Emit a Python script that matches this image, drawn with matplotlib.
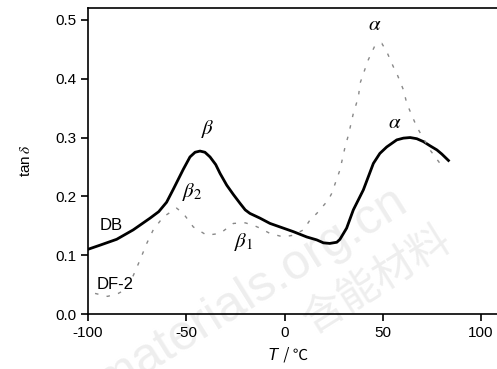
import matplotlib
matplotlib.use("Agg")
import matplotlib.pyplot as plt

plt.rcParams['font.family'] = ['Liberation Sans', 'Noto Sans CJK SC', 'DejaVu Sans']
plt.rcParams['mathtext.fontset'] = 'stix'

# DB (solid) curve
db_T = [-100, -93.9, -85.4, -77, -68.4, -64, -60, -56.6, -51.5, -48.1, -45.5, -43, -40.5, -37.9,
        -35, -32.8, -29.4, -26, -22.6, -20, -17.6, -12.5, -7.4, -0.6, 4.5, 11.3, 16.4, 19.8,
        23, 26.6, 28.2, 31.6, 35, 40.1, 45.2, 48.5, 52, 57.1, 60.5, 63.9, 67.3, 70.7, 74,
        77.5, 80, 83.4]
db_tan = [0.110, 0.117, 0.127, 0.143, 0.163, 0.174, 0.190, 0.212, 0.246, 0.267, 0.275, 0.277,
          0.275, 0.267, 0.254, 0.239, 0.219, 0.203, 0.188, 0.177, 0.171, 0.163, 0.154, 0.146,
          0.140, 0.131, 0.126, 0.121, 0.120, 0.122, 0.127, 0.146, 0.177, 0.211, 0.256, 0.273,
          0.284, 0.296, 0.299, 0.300, 0.298, 0.293, 0.286, 0.279, 0.272, 0.261]

# DF-2 (dashed) curve
df_T = [-96.4, -90, -84.6, -81.2, -77, -73.5, -70.1, -66.8, -61.7, -54.9, -51.5, -46.4, -39.6,
        -32.8, -26, -20, -15.9, -12.5, -7.4, -0.6, 4.5, 9.6, 13, 16.4, 22.3, 24, 28.2, 30.8,
        32.5, 35, 37.6, 38.4, 41, 42.6, 46.1, 49.5, 52, 55.4, 57.1, 60.5, 62.2, 65.5, 67.3,
        74, 79.1]
df_tan = [0.035, 0.030, 0.035, 0.041, 0.065, 0.092, 0.120, 0.143, 0.165, 0.180, 0.171, 0.148,
          0.134, 0.137, 0.154, 0.155, 0.151, 0.146, 0.137, 0.131, 0.134, 0.143, 0.160, 0.171,
          0.194, 0.205, 0.245, 0.284, 0.304, 0.341, 0.369, 0.392, 0.417, 0.432, 0.457, 0.460,
          0.446, 0.420, 0.409, 0.381, 0.358, 0.332, 0.318, 0.279, 0.256]

x_ticks = [-100, -50, 0, 50, 100]
y_ticks = [0.0, 0.1, 0.2, 0.3, 0.4, 0.5]

fig = plt.figure(figsize=(4.97, 3.69), dpi=100)
ax = fig.add_axes([0.177, 0.149, 0.823, 0.829])
ax.set_zorder(1)
ax.set_facecolor('none')

ax.plot(db_T, db_tan, color='black', lw=2.0, solid_joinstyle='round')
ax.plot(df_T, df_tan, color='#888888', lw=1.0, linestyle=(0, (2.5, 6)))

ax.set_xlim(-100, 108.1)
ax.set_ylim(0, 0.52)
ax.set_xticks(x_ticks)
ax.set_xticklabels([str(t) for t in x_ticks])
ax.set_yticks(y_ticks)
ax.set_yticklabels([f"{t:.1f}" for t in y_ticks])
ax.tick_params(direction='out', length=5, width=1.2, labelsize=11)
ax.spines['right'].set_visible(False)
for s in ['left', 'bottom', 'top']:
    ax.spines[s].set_linewidth(1.2)

ax.set_ylabel(r'tan$\,\delta$', fontsize=11, labelpad=16)
# x label: italic T plus the degree sign in a font that has it
ax.text(-3.5, -0.070, 'T', fontsize=12, fontstyle='italic', ha='right', va='center',
        clip_on=False)
ax.text(-2.5, -0.069, ' / ℃', fontsize=11, ha='left', va='center', clip_on=False,
        family=['Noto Sans CJK SC', 'DejaVu Sans'])

# curve annotations
fs = 12
ax.text(-39, 0.315, r'$\beta$', fontsize=15, ha='center', va='center')
ax.text(-47.2, 0.207, r'$\beta_2$', fontsize=15, ha='center', va='center')
ax.text(-21, 0.123, r'$\beta_1$', fontsize=15, ha='center', va='center')
ax.text(-88, 0.150, 'DB', fontsize=fs, ha='center', va='center')
ax.text(-86.3, 0.050, 'DF-2', fontsize=fs, ha='center', va='center')
ax.text(46, 0.492, r'$\alpha$', fontsize=15, ha='center', va='center')
ax.text(56.2, 0.325, r'$\alpha$', fontsize=15, ha='center', va='center')

# faint watermark behind the axes
fig.text(0.44, 0.15, 'tic_materials.org.cn', fontsize=36, color='#eeeeee', rotation=32,
         ha='center', va='center', zorder=0)
fig.text(0.76, 0.24, '含能材料', fontsize=30, color='#eeeeee', rotation=32,
         ha='center', va='center', zorder=0, family=['Noto Sans CJK SC', 'DejaVu Sans'])

fig.savefig('out.png', dpi=100)
